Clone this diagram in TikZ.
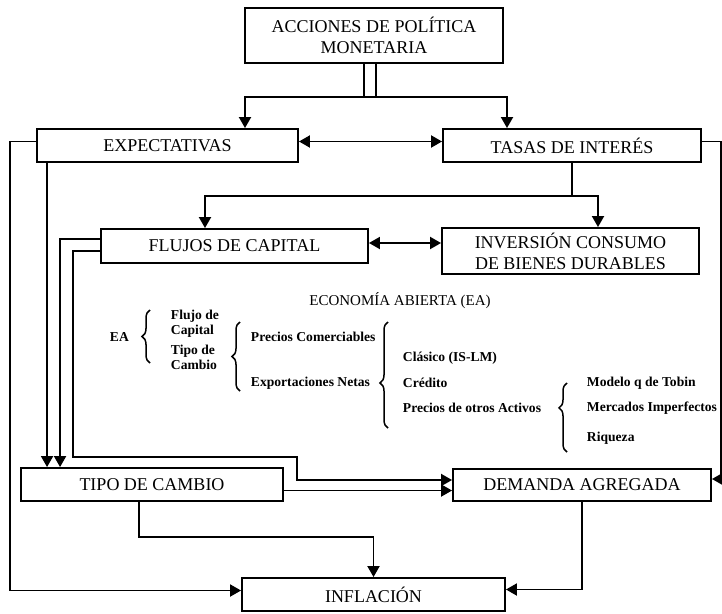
\documentclass[tikz,border=0pt]{standalone}
\usepackage{fontspec}
\setmainfont{Liberation Serif}
\usetikzlibrary{arrows.meta, decorations.pathreplacing, calc}

\begin{document}
\begin{tikzpicture}[x=1pt, y=-1pt, line width=1.9pt,
    caja/.style={draw, rectangle, line width=1.9pt, inner sep=0pt, align=center,
      font=\fontsize{18}{21}\selectfont},
    flecha/.style={-{Triangle[length=11pt,width=12pt]}},
    doble/.style={{Triangle[length=11pt,width=12pt]}-{Triangle[length=11pt,width=12pt]}},
    item/.style={anchor=west, align=left, inner sep=0pt,
      font=\bfseries\fontsize{13.6}{15}\selectfont},
    llave/.style={decorate, decoration={brace, amplitude=8pt}, line width=1.5pt}]
  \useasboundingbox (0,0) rectangle (722,613);

  % cajas
  \node[caja, minimum width=258pt, minimum height=55pt] (acc) at (374,35.5) {ACCIONES DE POLÍTICA\\MONETARIA};
  \node[caja, minimum width=261pt, minimum height=33pt] (exp) at (167.5,145.5) {EXPECTATIVAS};
  \node[caja, minimum width=258pt, minimum height=33pt] (tas) at (572,145.5) {TASAS DE INTERÉS};
  \node[caja, minimum width=267pt, minimum height=34pt] (flu) at (234.5,246) {FLUJOS DE CAPITAL};
  \node[caja, minimum width=257pt, minimum height=46pt] (inv) at (570.5,251) {INVERSIÓN CONSUMO\\DE BIENES DURABLES};
  \node[caja, minimum width=262pt, minimum height=33pt] (tip) at (152,484.5) {TIPO DE CAMBIO};
  \node[caja, minimum width=258pt, minimum height=32pt] (dem) at (582,485) {DEMANDA AGREGADA};
  \node[caja, minimum width=263pt, minimum height=33pt] (inf) at (373.5,594.5) {INFLACIÓN};

  % economia abierta
  \node[font=\fontsize{15}{17}\selectfont, inner sep=0pt] (eco) at (400,301) {ECONOMÍA ABIERTA (EA)};
  \node[item] (ea) at (109,337) {EA};
  \node[item] (fcap) at (170,323.5) {Flujo de\\Capital};
  \node[item] (tcam) at (170,357.5) {Tipo de\\Cambio};
  \node[item] (pcom) at (250,337) {Precios Comerciables};
  \node[item] (enet) at (250,383) {Exportaciones Netas};
  \node[item] (clas) at (402,358) {Clásico (IS-LM)};
  \node[item] (cred) at (402,383) {Crédito};
  \node[item] (potr) at (402,408) {Precios de otros Activos};
  \node[item] (tobin) at (586,383) {Modelo q de Tobin};
  \node[item] (merc) at (586,408) {Mercados Imperfectos};
  \node[item] (riq) at (586,438) {Riqueza};

  \draw[llave] (150,363) -- (150,310);
  \draw[llave] (240,391) -- (240,322);
  \draw[llave, decoration={aspect=0.425}] (388,428) -- (388,322);
  \draw[llave, decoration={aspect=0.64}] (567,452) -- (567,383);

  % conexiones
  \coordinate (reparto) at (370,97);
  \coordinate (ramal) at (572,196);
  \coordinate (codoA) at (73,457);
  \coordinate (codoB) at (297,480);

  \draw[double, double distance=10pt, line width=1.6pt] (acc.south -| reparto) -- (reparto);
  \draw[flecha] (reparto) -| ([xshift=77.5pt]exp.north);
  \draw[flecha] (reparto) -| ([xshift=-65pt]tas.north);
  \draw[doble] ([yshift=4pt]exp.east) -- ([yshift=4pt]exp.east -| tas.west);

  \draw[flecha] ([yshift=4pt]exp.west) -- ++(-26,0) |- ([yshift=4pt]inf.west);
  \draw[flecha] ([yshift=4pt]tas.east) -- ++(19,0) |- ([yshift=6pt]dem.east);

  \draw (tas.south) -- (ramal);
  \draw[flecha] (ramal) -| ([xshift=-29.5pt]flu.north);
  \draw[flecha] (ramal) -| ([xshift=27.5pt]inv.north);
  \draw[doble] ([yshift=3pt]flu.east) -- ([yshift=3pt]flu.east -| inv.west);

  \draw[flecha] ([xshift=11pt]exp.south west) -- ([xshift=27pt]tip.north west);
  \draw[flecha] ([yshift=-11pt]flu.north west) -| ([xshift=40pt]tip.north west);
  \draw[flecha] ([yshift=-23pt]flu.north west) -| (codoA) -| (codoB) -- (codoB -| dem.west);
  \draw[flecha] ([yshift=-6pt]tip.east) -- ([yshift=-6pt]tip.east -| dem.west);

  \draw[flecha] ([xshift=-13pt]tip.south) -- ++(0,35) -| (inf.north);
  \draw[flecha] (dem.south) |- ([yshift=5pt]inf.east);
\end{tikzpicture}
\end{document}
